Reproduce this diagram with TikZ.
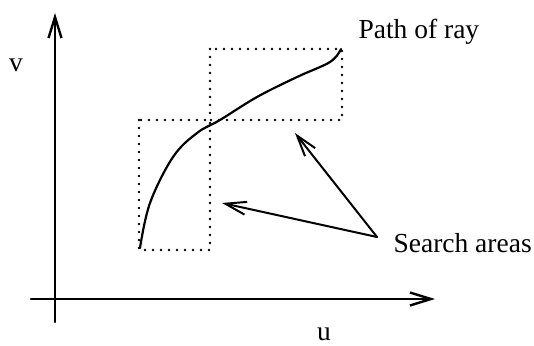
\documentclass[tikz,border=0pt]{standalone}
\usepackage{fontspec}
\setmainfont{Liberation Serif}
\usetikzlibrary{arrows.meta}
\begin{document}
\begin{tikzpicture}[x=1pt,y=-1pt,line join=round,line cap=round,font=\fontsize{27.5}{33}\selectfont,
	>={Straight Barb[length=21pt,width=13pt]},
	axis/.style={line width=2.4pt,->},
	area/.style={line width=2.6pt,dash pattern=on 0pt off 8pt},
	pointer/.style={line width=2pt,->}]
	\useasboundingbox (0,0) rectangle (534,345);
	% axes
	\coordinate (xs) at (31,299); \coordinate (xe) at (435,299);
	\coordinate (ys) at (55,322); \coordinate (ye) at (55,13);
	\draw[axis] (xs)--(xe);
	\draw[axis] (ys)--(ye);
	\node (v) at (16,65) {v};
	\node (u) at (324,334) {u};
	% search areas
	\draw[area] (210,49) rectangle (342,120) (139,120) rectangle (210,250);
	% ray
	\draw[line width=2.2pt] plot[smooth,tension=.6] coordinates {(140,248) (150,203) (173,157) (197,133) (220,120) (257,97) (297,77) (330,62) (341,49)};
	\node[anchor=base west] (path) at (355,38) {Path of ray};
	\node[anchor=base west] (search) at (390,252) {Search areas};
	\coordinate (fork) at (377,237);
	\coordinate (upper) at (295,133); \coordinate (lower) at (222,203);
	\draw[pointer] (fork)--(upper);
	\draw[pointer] (fork)--(lower);
\end{tikzpicture}
\end{document}
